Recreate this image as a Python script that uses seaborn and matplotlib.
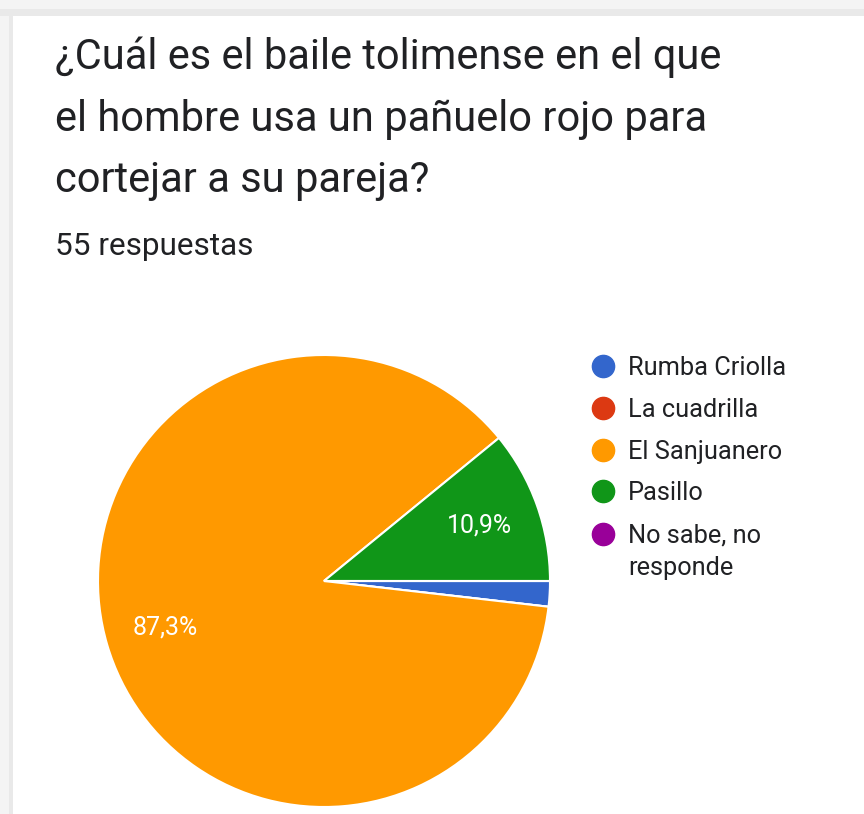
import matplotlib
matplotlib.use("Agg")
import matplotlib.pyplot as plt
from matplotlib.lines import Line2D
from matplotlib.patches import Rectangle
from matplotlib.legend_handler import HandlerLine2D
import seaborn as sns

categories = ["Rumba Criolla", "La cuadrilla", "El Sanjuanero", "Pasillo", "No sabe, no\nresponde"]
counts = [1, 0, 48, 6, 0]
colors = ["#3366cc", "#dc3912", "#ff9900", "#109618", "#990099"]
title_lines = "¿Cuál es el baile tolimense en el que\nel hombre usa un pañuelo rojo para\ncortejar a su pareja?"
subtitle = "55 respuestas"

sns.set_theme(style="white")
plt.rcParams["font.family"] = ["Roboto", "DejaVu Sans"]

W, H = 864, 814
fig = plt.figure(figsize=(W / 100, H / 100), dpi=100)
fig.patch.set_facecolor("white")

# card background / screenshot frame
fig.patches.append(Rectangle((0, 1 - 16 / H), 1, 16 / H, transform=fig.transFigure,
                             facecolor="#f4f4f4", edgecolor="none", zorder=-5))
fig.patches.append(Rectangle((0, 1 - 16 / H), 1, 7 / H, transform=fig.transFigure,
                             facecolor="#e9e9e9", edgecolor="none", zorder=-4))
fig.patches.append(Rectangle((0, 0), 13 / W, 1, transform=fig.transFigure,
                             facecolor="#f4f4f4", edgecolor="none", zorder=-5))
fig.patches.append(Rectangle((9 / W, 0), 4 / W, 1 - 16 / H, transform=fig.transFigure,
                             facecolor="#e9e9e9", edgecolor="none", zorder=-4))

cx, cy, r = 324, 581, 226
ax = fig.add_axes([(cx - r) / W, (H - cy - r) / H, 2 * r / W, 2 * r / H])


def fmt(p):
    return ("%.1f%%" % p).replace(".", ",") if p > 5 else ""


wedges, texts, autotexts = ax.pie(
    counts, colors=colors, startangle=0, counterclock=False,
    autopct=fmt, pctdistance=0.73,
    wedgeprops=dict(edgecolor="white", linewidth=1.5),
    textprops=dict(color="white", fontsize=18),
)
ax.set_xlim(-1, 1)
ax.set_ylim(-1, 1)
ax.set_aspect("equal")
ax.axis("off")

fig.text(55 / W, 1 - 37 / H, title_lines, fontsize=30, color="#202124",
         va="top", ha="left", linespacing=1.64)
fig.text(55 / W, 1 - 247 / H, subtitle, fontsize=22.7, color="#202124",
         va="center", ha="left")


class TopAlignedHandler(HandlerLine2D):
    def __init__(self, dy=0, **kw):
        super().__init__(**kw)
        self.dy = dy

    def create_artists(self, legend, orig_handle, xdescent, ydescent, width, height,
                       fontsize, trans):
        arts = super().create_artists(legend, orig_handle, xdescent, ydescent, width,
                                      height, fontsize, trans)
        for a in arts:
            a.set_ydata([y + self.dy for y in a.get_ydata()])
        return arts


handles = [Line2D([], [], marker="o", ls="", color=c, markersize=16) for c in colors]
handler_map = {handles[-1]: TopAlignedHandler(dy=13)}
leg = ax.legend(handles, categories, loc="upper left",
                bbox_to_anchor=(591 / W, 1 - 356 / H), bbox_transform=fig.transFigure,
                frameon=False, fontsize=18.3, handlelength=0.95, handletextpad=0.5,
                labelspacing=0.7, borderpad=0, borderaxespad=0, handler_map=handler_map)
for t in leg.get_texts():
    t.set_color("#202124")
    t.set_linespacing(1.45)

fig.savefig("out.png", dpi=100, facecolor=fig.get_facecolor())
